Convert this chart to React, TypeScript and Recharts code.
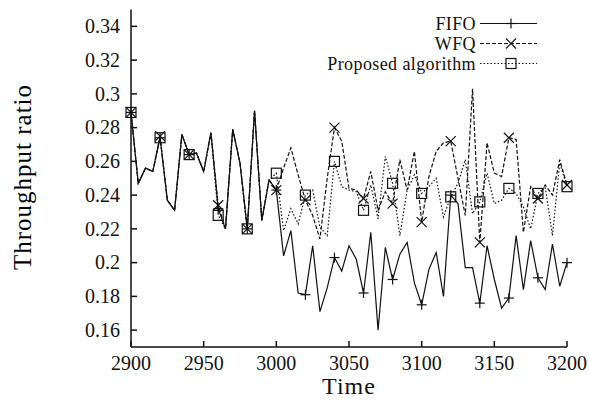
import React from "react"
import { LineChart, Line, XAxis, YAxis, Legend } from "recharts"

const times = [
  2900, 2905, 2910, 2915, 2920, 2925, 2930, 2935, 2940, 2945, 2950, 2955, 2960, 2965, 2970, 2975,
  2980, 2985, 2990, 2995, 3000, 3005, 3010, 3015, 3020, 3025, 3030, 3035, 3040, 3045, 3050, 3055,
  3060, 3065, 3070, 3075, 3080, 3085, 3090, 3095, 3100, 3105, 3110, 3115, 3120, 3125, 3130, 3135,
  3140, 3145, 3150, 3155, 3160, 3165, 3170, 3175, 3180, 3185, 3190, 3195, 3200,
]

const fifo = [
  0.289, 0.247, 0.256, 0.254, 0.274, 0.237, 0.231, 0.276, 0.264, 0.265, 0.254, 0.277, 0.232, 0.22, 0.279, 0.259,
  0.22, 0.29, 0.225, 0.249, 0.243, 0.204, 0.219, 0.182, 0.181, 0.21, 0.171, 0.185, 0.203, 0.195, 0.21, 0.202,
  0.182, 0.218, 0.16, 0.209, 0.19, 0.205, 0.212, 0.188, 0.175, 0.196, 0.206, 0.18, 0.24, 0.235, 0.197, 0.197,
  0.176, 0.21, 0.19, 0.173, 0.179, 0.216, 0.184, 0.213, 0.191, 0.184, 0.211, 0.186, 0.2,
]

const wfq = [
  0.289, 0.247, 0.256, 0.254, 0.275, 0.237, 0.231, 0.276, 0.264, 0.265, 0.254, 0.277, 0.234, 0.22, 0.279, 0.259,
  0.22, 0.29, 0.225, 0.249, 0.243, 0.256, 0.268, 0.252, 0.237, 0.228, 0.214, 0.25, 0.28, 0.272, 0.244, 0.243,
  0.238, 0.254, 0.231, 0.242, 0.235, 0.261, 0.243, 0.266, 0.224, 0.251, 0.266, 0.271, 0.272, 0.25, 0.228, 0.303,
  0.212, 0.271, 0.253, 0.251, 0.274, 0.273, 0.218, 0.245, 0.238, 0.246, 0.24, 0.261, 0.246,
]

const proposed = [
  0.289, 0.247, 0.256, 0.254, 0.274, 0.237, 0.231, 0.276, 0.264, 0.265, 0.254, 0.277, 0.228, 0.22, 0.279, 0.259,
  0.22, 0.29, 0.225, 0.249, 0.253, 0.219, 0.232, 0.223, 0.24, 0.243, 0.221, 0.216, 0.26, 0.245, 0.243, 0.242,
  0.231, 0.246, 0.226, 0.263, 0.247, 0.216, 0.243, 0.252, 0.241, 0.245, 0.25, 0.227, 0.239, 0.247, 0.261, 0.229,
  0.236, 0.253, 0.235, 0.237, 0.244, 0.241, 0.233, 0.22, 0.241, 0.245, 0.216, 0.259, 0.245,
]

const xTicks = [2900, 2950, 3000, 3050, 3100, 3150, 3200]
const yTicks = [0.16, 0.18, 0.2, 0.22, 0.24, 0.26, 0.28, 0.3, 0.32, 0.34]

const data = times.map((t, i) => ({ time: t, fifo: fifo[i], wfq: wfq[i], proposed: proposed[i] }))

const FONT = "Liberation Serif, DejaVu Serif, serif"
const INK = "#111"

type Kind = "plus" | "cross" | "square"

function Marker({ kind, x, y }: { kind: Kind; x: number; y: number }) {
  if (kind === "plus") {
    return (
      <g stroke={INK} strokeWidth={1.2}>
        <line x1={x - 5} y1={y} x2={x + 5} y2={y} />
        <line x1={x} y1={y - 5} x2={x} y2={y + 5} />
      </g>
    )
  }
  if (kind === "cross") {
    return (
      <g stroke={INK} strokeWidth={1.2}>
        <line x1={x - 5} y1={y - 5} x2={x + 5} y2={y + 5} />
        <line x1={x - 5} y1={y + 5} x2={x + 5} y2={y - 5} />
      </g>
    )
  }
  return <rect x={x - 5} y={y - 5} width={10} height={10} fill="none" stroke={INK} strokeWidth={1.2} />
}

const everyFourth = (kind: Kind) => (props: any) => {
  const { cx, cy, index } = props
  if (index % 4 !== 0 || cx == null || cy == null) return <g key={`${kind}-${index}`} />
  return (
    <g key={`${kind}-${index}`}>
      <Marker kind={kind} x={cx} y={cy} />
    </g>
  )
}

const legendRows = [
  { name: "FIFO", kind: "plus" as Kind, dash: undefined },
  { name: "WFQ", kind: "cross" as Kind, dash: "4 2" },
  { name: "Proposed algorithm", kind: "square" as Kind, dash: "1.5 2" },
]

function LegendBox() {
  return (
    <svg width={250} height={80} style={{ overflow: "visible" }}>
      {legendRows.map((r, i) => {
        const cy = 23.5 + i * 20
        return (
          <g key={r.name}>
            <text x={176} y={cy + 6} textAnchor="end" style={{ fontFamily: FONT, fontSize: 18, letterSpacing: 0.4 }} fill={INK}>
              {r.name}
            </text>
            <line x1={180} y1={cy} x2={237} y2={cy} stroke={INK} strokeWidth={1.2} strokeDasharray={r.dash} />
            <Marker kind={r.kind} x={211} y={cy} />
          </g>
        )
      })}
    </svg>
  )
}

const XTick = (props: any) => (
  <text x={props.x} y={props.y} dy="0.71em" textAnchor="middle" style={{ fontFamily: FONT, fontSize: 20 }} fill={INK}>
    {props.payload.value}
  </text>
)

const YTick = (props: any) => (
  <text x={props.x} y={props.y} dy="0.34em" textAnchor="end" style={{ fontFamily: FONT, fontSize: 20 }} fill={INK}>
    {String(parseFloat(Number(props.payload.value).toFixed(2)))}
  </text>
)

export default function App() {
  return (
    <div style={{ position: "absolute", left: 0, top: 0, width: 589, height: 407, background: "#fff" }}>
      <LineChart width={589} height={407} data={data} margin={{ top: 9.5, right: 22, bottom: 0, left: 0 }}>
        <XAxis
          dataKey="time"
          type="number"
          domain={[2900, 3200]}
          ticks={xTicks}
          height={60}
          tickSize={-6}
          tickMargin={15}
          stroke={INK}
          strokeWidth={1.5}
          tick={XTick}
          label={{
            content: (p: any) => {
              const vb = p.viewBox || { x: 131, width: 436 }
              return (
                <text
                  x={vb.x + vb.width / 2}
                  y={394}
                  textAnchor="middle"
                  style={{ fontFamily: FONT, fontSize: 24, letterSpacing: 1 }}
                  fill={INK}
                >
                  Time
                </text>
              )
            },
          }}
        />
        <XAxis
          xAxisId="top"
          orientation="top"
          dataKey="time"
          type="number"
          domain={[2900, 3200]}
          ticks={xTicks}
          height={0}
          tickSize={-6}
          tick={false}
          stroke={INK}
          strokeWidth={1.5}
        />
        <YAxis
          type="number"
          domain={[0.15, 0.35]}
          ticks={yTicks}
          width={131}
          tickSize={-6}
          tickMargin={17}
          stroke={INK}
          strokeWidth={1.5}
          tick={YTick}
          label={{
            content: () => (
              <text
                x={22}
                y={177}
                transform="rotate(-90 22 177)"
                textAnchor="middle"
                dominantBaseline="central"
                style={{ fontFamily: FONT, fontSize: 25, letterSpacing: 1 }}
                fill="#000"
              >
                Throughput ratio
              </text>
            ),
          }}
        />
        <YAxis
          yAxisId="right"
          orientation="right"
          type="number"
          domain={[0.15, 0.35]}
          ticks={yTicks}
          width={0}
          tickSize={-6}
          tick={false}
          stroke={INK}
          strokeWidth={1.5}
        />
        <Legend
          layout="vertical"
          align="center"
          verticalAlign="middle"
          content={() => <LegendBox />}
          wrapperStyle={{ position: "absolute", left: 300, top: 0, width: 250, height: 80 }}
        />
        <Line
          dataKey="proposed"
          name="Proposed algorithm"
          stroke={INK}
          strokeWidth={1.2}
          strokeDasharray="1.5 2"
          dot={everyFourth("square")}
          activeDot={false}
          isAnimationActive={false}
        />
        <Line
          dataKey="wfq"
          name="WFQ"
          stroke={INK}
          strokeWidth={1.2}
          strokeDasharray="4 2"
          dot={everyFourth("cross")}
          activeDot={false}
          isAnimationActive={false}
        />
        <Line
          dataKey="fifo"
          name="FIFO"
          stroke={INK}
          strokeWidth={1.2}
          dot={everyFourth("plus")}
          activeDot={false}
          isAnimationActive={false}
        />
      </LineChart>
    </div>
  )
}
